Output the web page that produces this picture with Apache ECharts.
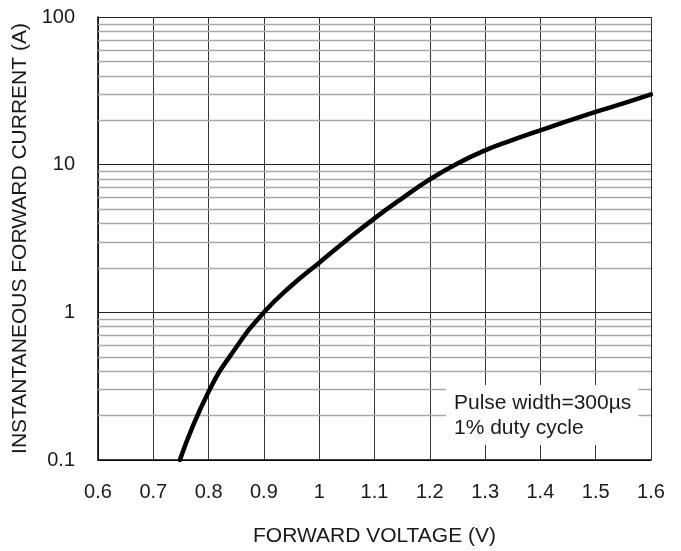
<!DOCTYPE html>
<html>
<head>
<meta charset="utf-8">
<script src="https://cdn.jsdelivr.net/npm/echarts@6/dist/echarts.min.js"></script>
<style>
    html, body { margin: 0; padding: 0; background: #fff; }
    #chart { width: 681px; height: 551px; }
</style>
</head>
<body>
<div id="chart"></div>
<script>
// forward voltage (V) vs instantaneous forward current (A)
const voltage = [0.748, 0.8, 0.85, 0.9, 0.95, 1.0, 1.05, 1.1, 1.15, 1.2, 1.25, 1.3, 1.35, 1.4, 1.45, 1.5, 1.55, 1.6];
const current = [0.1, 0.29, 0.58, 1.0, 1.52, 2.17, 3.09, 4.33, 5.92, 7.94, 10.2, 12.5, 14.7, 17.1, 19.8, 22.8, 26.0, 29.9];

// the 2..9 lines inside each decade
const minorTicks = [0.2, 0.3, 0.4, 0.5, 0.6, 0.7, 0.8, 0.9, 2, 3, 4, 5, 6, 7, 8, 9, 20, 30, 40, 50, 60, 70, 80, 90];

const noteLines = ['Pulse width=300µs', '1% duty cycle'];

const font = 'Liberation Sans';
const textColor = '#1a1a1a';

let chart = echarts.init(document.getElementById('chart'));

let option = {
    animation: false,
    grid: { left: 98, right: 30, top: 17, bottom: 91, outerBoundsMode: 'none' },
    xAxis: {
        type: 'value',
        min: 0.6,
        max: 1.6,
        interval: 0.1,
        name: 'FORWARD VOLTAGE (V)',
        nameLocation: 'middle',
        nameGap: 66,
        nameTextStyle: { fontFamily: font, fontSize: 21, color: textColor },
        axisLine: { lineStyle: { color: '#000', width: 1.5 } },
        axisTick: { show: false },
        axisLabel: {
            margin: 22,
            fontFamily: font,
            fontSize: 20,
            color: textColor,
            formatter: v => String(+v.toFixed(1))
        },
        splitLine: { show: true, lineStyle: { color: '#333', width: 1 } }
    },
    yAxis: {
        type: 'log',
        logBase: 10,
        min: 0.1,
        max: 100,
        name: 'INSTANTANEOUS FORWARD CURRENT (A)',
        nameLocation: 'middle',
        nameGap: 66,
        nameTextStyle: { fontFamily: font, fontSize: 21, color: textColor },
        axisLine: { show: true, lineStyle: { color: '#000', width: 1.5 } },
        axisTick: { show: false },
        axisLabel: {
            margin: 23,
            fontFamily: font,
            fontSize: 20,
            color: textColor,
            formatter: v => String(+v.toPrecision(3))
        },
        splitLine: { show: true, lineStyle: { color: '#222', width: 1 } }
    },
    graphic: [
        {
            type: 'text',
            left: 446,
            top: 385,
            z: 100,
            style: {
                text: noteLines.join('\n'),
                font: `21px "${font}"`,
                fill: textColor,
                lineHeight: 25,
                backgroundColor: '#fff',
                padding: [6, 7, 4, 8]
            }
        }
    ],
    series: [
        {
            type: 'line',
            data: voltage.map((v, i) => [v, current[i]]),
            smooth: 0.5,
            symbol: 'none',
            lineStyle: { color: '#000', width: 4.5, cap: 'round' },
            markLine: {
                silent: true,
                symbol: 'none',
                label: { show: false },
                lineStyle: { color: '#a8a8a8', width: 1.3, type: 'solid' },
                data: minorTicks.map(t => ({ yAxis: t }))
            },
            z: 5
        }
    ]
};

chart.setOption(option);
</script>
</body>
</html>
